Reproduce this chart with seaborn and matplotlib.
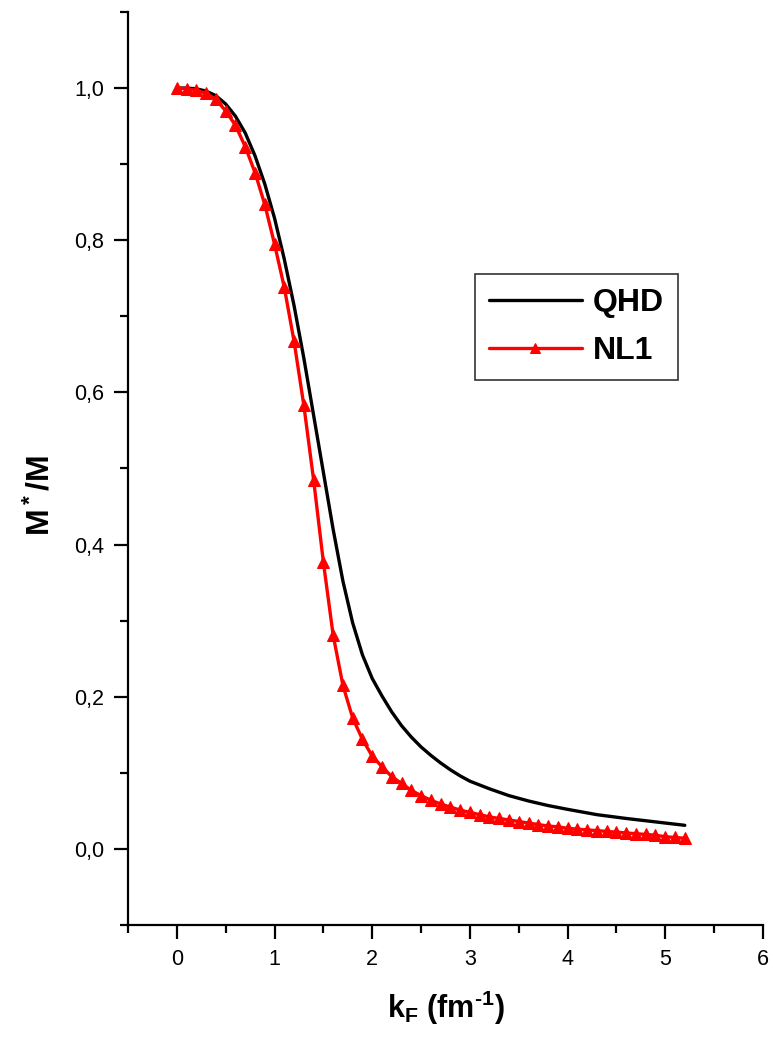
import numpy as np
import pandas as pd
import seaborn as sns
import matplotlib.pyplot as plt
from matplotlib.ticker import MultipleLocator, FuncFormatter

# QHD curve
qhd_k = [0.0, 0.1, 0.2, 0.3, 0.4, 0.5, 0.6, 0.7, 0.8, 0.9, 1.0, 1.1, 1.2, 1.3, 1.4,
         1.5, 1.6, 1.7, 1.8, 1.9, 2.0, 2.1, 2.2, 2.3, 2.4, 2.5, 2.6, 2.7, 2.8, 2.9,
         3.0, 3.2, 3.4, 3.6, 3.8, 4.0, 4.3, 4.6, 5.0, 5.2]
qhd_m = [1.000, 1.000, 0.999, 0.996, 0.990, 0.979, 0.963, 0.941, 0.911, 0.874, 0.829,
         0.775, 0.714, 0.645, 0.570, 0.495, 0.420, 0.352, 0.297, 0.255, 0.224, 0.201,
         0.180, 0.162, 0.147, 0.134, 0.123, 0.113, 0.104, 0.096, 0.089, 0.079, 0.070,
         0.063, 0.057, 0.052, 0.045, 0.040, 0.034, 0.031]

# NL1 curve, one marker every 0.1 fm^-1
nl1_k = [round(0.1 * i, 1) for i in range(53)]
nl1_m = [1.000, 0.999, 0.997, 0.993, 0.985, 0.970, 0.951, 0.923, 0.889, 0.847,
         0.795, 0.738, 0.667, 0.583, 0.485, 0.377, 0.281, 0.215, 0.172, 0.144,
         0.122, 0.108, 0.095, 0.086, 0.077, 0.070, 0.064, 0.059, 0.055, 0.051,
         0.048, 0.045, 0.042, 0.040, 0.038, 0.036, 0.034, 0.032, 0.030, 0.029,
         0.027, 0.026, 0.025, 0.024, 0.023, 0.022, 0.021, 0.020, 0.019, 0.018,
         0.016, 0.015, 0.014]

qhd = pd.DataFrame({"k": qhd_k, "m": qhd_m})
nl1 = pd.DataFrame({"k": nl1_k, "m": nl1_m})

sns.set_style("ticks")
plt.rcParams["font.family"] = ["Liberation Sans", "DejaVu Sans"]
plt.rcParams["mathtext.fontset"] = "custom"
plt.rcParams["mathtext.rm"] = "Liberation Sans"
plt.rcParams["mathtext.bf"] = "Liberation Sans:bold"
for key in ["text.color", "axes.labelcolor", "xtick.color", "ytick.color", "axes.edgecolor"]:
    plt.rcParams[key] = "black"

fig = plt.figure(figsize=(7.73, 10.51), dpi=100)
ax = fig.add_axes([0.1656, 0.1199, 0.8214, 0.8687])

sns.lineplot(data=qhd, x="k", y="m", ax=ax, color="black", linewidth=2.4, label="QHD")
sns.lineplot(data=nl1, x="k", y="m", ax=ax, color="red", linewidth=2.4,
             marker="^", markersize=8, markeredgecolor="red", label="NL1")

ax.set_xlim(-0.5, 6)
ax.set_ylim(-0.1, 1.1)
ax.xaxis.set_major_locator(MultipleLocator(1))
ax.xaxis.set_minor_locator(MultipleLocator(0.5))
ax.yaxis.set_major_locator(MultipleLocator(0.2))
ax.yaxis.set_minor_locator(MultipleLocator(0.1))
ax.yaxis.set_major_formatter(FuncFormatter(lambda v, p: f"{v:.1f}".replace(".", ",")))
ax.xaxis.set_major_formatter(FuncFormatter(lambda v, p: f"{v:.0f}"))

for s in ["top", "right"]:
    ax.spines[s].set_visible(False)
for s in ["left", "bottom"]:
    ax.spines[s].set_linewidth(1.6)
ax.tick_params(which="major", direction="out", length=10, width=1.6,
               labelsize=15.5, pad=7, color="black", labelcolor="black")
ax.tick_params(which="minor", direction="out", length=5.5, width=1.6, color="black")

ax.set_xlabel("$\\mathbf{k_F}$ $\\mathbf{(fm^{\u2010 1})}$", fontsize=22, labelpad=14)
ax.set_ylabel(r"$\mathbf{M^*/M}$", fontsize=23)
ax.yaxis.set_label_coords(-0.112, 0.47)

leg = ax.legend(loc="upper left", bbox_to_anchor=(0.546, 0.713), borderaxespad=0,
                prop={"weight": "bold", "size": 23}, handlelength=2.9,
                frameon=True, fancybox=False, edgecolor="black", borderpad=0.45,
                labelspacing=0.55, handletextpad=0.35, markerscale=0.9)
leg.get_frame().set_linewidth(1.2)
for line in leg.get_lines():
    line.set_linewidth(2.4)

fig.savefig("out.png", dpi=100, facecolor="white")
